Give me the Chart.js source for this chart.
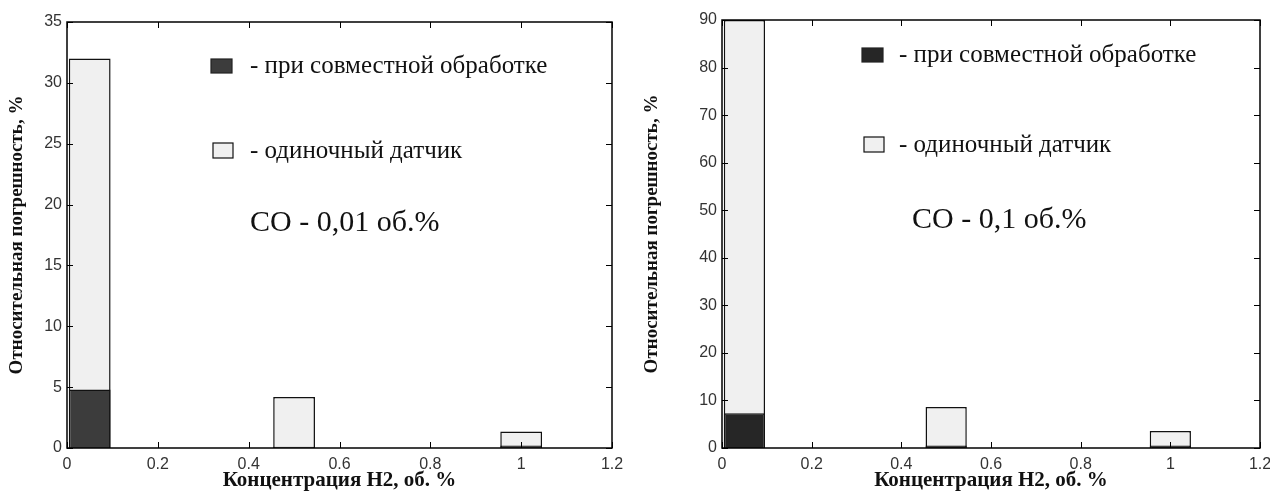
<!DOCTYPE html>
<html lang="ru">
<head>
  <meta charset="UTF-8">
  <title>Относительная погрешность</title>
  <style>
    html, body { margin: 0; padding: 0; background: #fff; overflow: hidden; }
    .wrap { display: flex; width: 1280px; height: 493px; }
    canvas { display: block; flex: none; }
  </style>
</head>
<body>

<div class="wrap">
  <canvas id="chartLeft" width="635" height="493"></canvas>
  <canvas id="chartRight" width="645" height="493"></canvas>
</div>

<script src="https://cdn.jsdelivr.net/npm/chart.js"></script>

<script>
  // концентрация H2, об. %
  const concentrations = [0.05, 0.5, 1.0];
  const xTicks = [0, 0.2, 0.4, 0.6, 0.8, 1, 1.2];

  // CO - 0,01 об.%
  const jointLeft = [4.8, 0.1, 0.2];
  const singleLeft = [32, 4.2, 1.35];
  const yTicksLeft = [0, 5, 10, 15, 20, 25, 30, 35];

  // CO - 0,1 об.%
  const jointRight = [7.3, 0.5, 0.5];
  const singleRight = [90, 8.6, 3.6];
  const yTicksRight = [0, 10, 20, 30, 40, 50, 60, 70, 80, 90];

  const legendLabels = ['- при совместной обработке', '- одиночный датчик'];

  const serif = '"Liberation Serif", "Times New Roman", serif';
  const sans = '"Liberation Sans", Arial, sans-serif';

  function points(values) {
    return values.map((v, i) => ({ x: concentrations[i], y: v }));
  }

  // рамка с засечками внутрь + легенда и подпись
  const framePlugin = {
    id: 'frame',
    afterDatasetsDraw(chart, args, opts) {
      const ctx = chart.ctx;
      const a = chart.chartArea;
      const xs = chart.scales.x, ys = chart.scales.y;
      ctx.save();
      ctx.strokeStyle = '#000';
      ctx.lineWidth = 1;
      ctx.beginPath();
      xs.ticks.forEach(t => {
        const px = Math.round(xs.getPixelForValue(t.value)) + 0.5;
        ctx.moveTo(px, a.bottom); ctx.lineTo(px, a.bottom - 6);
        ctx.moveTo(px, a.top); ctx.lineTo(px, a.top + 6);
      });
      ys.ticks.forEach(t => {
        const py = Math.round(ys.getPixelForValue(t.value)) + 0.5;
        ctx.moveTo(a.left, py); ctx.lineTo(a.left + 6, py);
        ctx.moveTo(a.right, py); ctx.lineTo(a.right - 6, py);
      });
      ctx.stroke();
      ctx.lineWidth = 1.5;
      ctx.strokeRect(a.left, a.top, a.right - a.left, a.bottom - a.top);

      // легенда
      const L = opts.legend;
      ctx.lineWidth = 1.2;
      ctx.fillStyle = opts.dark;
      ctx.fillRect(a.left + L.box1[0], a.top + L.box1[1], 21, 14);
      ctx.strokeStyle = '#222';
      ctx.strokeRect(a.left + L.box1[0], a.top + L.box1[1], 21, 14);
      ctx.fillStyle = '#f0f0f0';
      ctx.fillRect(a.left + L.box2[0], a.top + L.box2[1], 20, 15);
      ctx.strokeStyle = '#111';
      ctx.strokeRect(a.left + L.box2[0], a.top + L.box2[1], 20, 15);

      ctx.fillStyle = '#111';
      ctx.textBaseline = 'middle';
      ctx.textAlign = 'left';
      ctx.font = '25px ' + serif;
      ctx.fillText(legendLabels[0], a.left + L.text1[0], a.top + L.text1[1]);
      ctx.fillText(legendLabels[1], a.left + L.text2[0], a.top + L.text2[1]);
      ctx.font = '30px ' + serif;
      ctx.fillText(opts.note, a.left + L.note[0], a.top + L.note[1]);
      ctx.restore();
    }
  };

  function makeChart(id, joint, single, yTicks, yMax, axisWidth, pad, note, dark, legend) {
    const ctx = document.getElementById(id).getContext('2d');
    return new Chart(ctx, {
      type: 'bar',
      data: {
        datasets: [{
          label: legendLabels[0],
          data: points(joint),
          backgroundColor: dark,
          borderColor: '#111',
          borderWidth: 1.5
        }, {
          label: legendLabels[1],
          data: points(single),
          backgroundColor: '#f0f0f0',
          borderColor: '#111',
          borderWidth: 1.5
        }]
      },
      options: {
        responsive: false,
        animation: false,
        layout: { padding: pad },
        grouped: false,
        barPercentage: 0.46,
        categoryPercentage: 1,
        plugins: {
          legend: { display: false },
          tooltip: { enabled: false },
          frame: { note: note, legend: legend, dark: dark }
        },
        scales: {
          x: {
            type: 'linear',
            min: 0,
            max: 1.2,
            offset: false,
            grid: { display: false, drawTicks: false, offset: false },
            border: { display: false },
            afterBuildTicks: s => { s.ticks = xTicks.map(v => ({ value: v })); },
            afterFit: s => { s.height = 45; },
            ticks: {
              padding: 7,
              color: '#333',
              font: { family: sans, size: 16 },
              callback: v => String(v)
            },
            title: {
              display: true,
              text: 'Концентрация H2, об. %',
              color: '#111',
              padding: { top: 3, bottom: 0 },
              font: { family: serif, size: 21, weight: 'bold' }
            }
          },
          y: {
            min: 0,
            max: yMax,
            grid: { display: false, drawTicks: false },
            border: { display: false },
            afterBuildTicks: s => { s.ticks = yTicks.map(v => ({ value: v })); },
            afterFit: s => { s.width = axisWidth; },
            ticks: {
              padding: 5,
              color: '#333',
              font: { family: sans, size: 16 }
            },
            title: {
              display: true,
              text: 'Относительная погрешность, %',
              color: '#111',
              padding: { top: 6, bottom: 0 },
              font: { family: serif, size: 19, weight: 'bold' }
            }
          }
        }
      },
      plugins: [framePlugin]
    });
  }

  makeChart('chartLeft', jointLeft, singleLeft, yTicksLeft, 35, 67,
    { top: 22, right: 23 }, 'CO - 0,01 об.%', '#3c3c3c',
    { box1: [144, 37], box2: [146, 121], text1: [183, 44], text2: [183, 129], note: [183, 201] });

  makeChart('chartRight', jointRight, singleRight, yTicksRight, 90, 87,
    { top: 20, right: 20 }, 'CO - 0,1 об.%', '#262626',
    { box1: [140, 28], box2: [142, 117], text1: [177, 35], text2: [177, 125], note: [190, 200] });
</script>
</body>
</html>
